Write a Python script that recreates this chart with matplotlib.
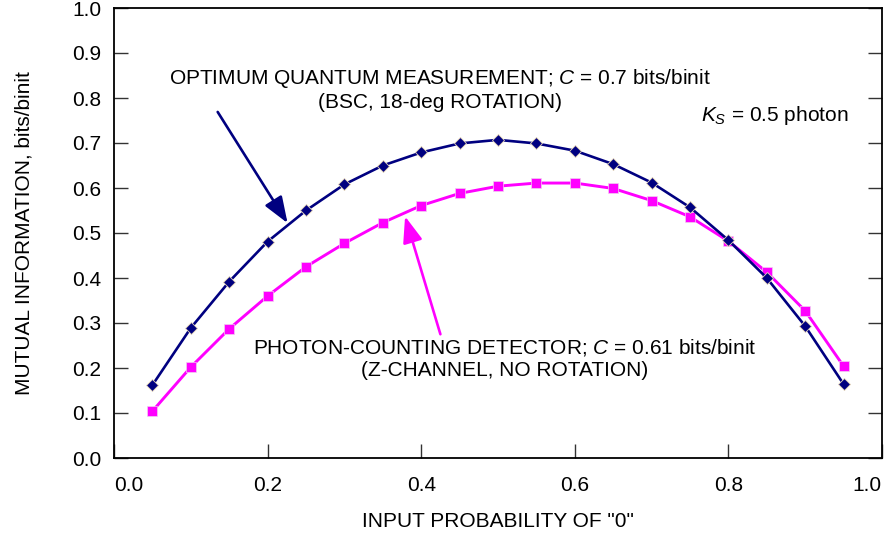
import matplotlib
matplotlib.use("Agg")
import matplotlib.pyplot as plt

plt.rcParams['font.family'] = ['Liberation Sans', 'DejaVu Sans']
plt.rcParams['mathtext.fontset'] = 'custom'
plt.rcParams['mathtext.it'] = 'Liberation Sans:italic'
plt.rcParams['mathtext.rm'] = 'Liberation Sans'

p0 = [0.05, 0.10, 0.15, 0.20, 0.25, 0.30, 0.35, 0.40, 0.45, 0.50,
      0.55, 0.60, 0.65, 0.70, 0.75, 0.80, 0.85, 0.90, 0.95]
optimum = [0.162, 0.289, 0.392, 0.481, 0.550, 0.608, 0.650, 0.679, 0.699, 0.707,
           0.699, 0.683, 0.653, 0.612, 0.557, 0.484, 0.400, 0.293, 0.164]
photon = [0.104, 0.202, 0.287, 0.360, 0.425, 0.477, 0.523, 0.561, 0.588, 0.604,
          0.611, 0.611, 0.599, 0.572, 0.536, 0.482, 0.413, 0.327, 0.204]

xticks = [0.0, 0.2, 0.4, 0.6, 0.8, 1.0]
yticks = [0.0, 0.1, 0.2, 0.3, 0.4, 0.5, 0.6, 0.7, 0.8, 0.9, 1.0]

navy = '#000080'
pink = '#FF00FF'
FS = 15

fig = plt.figure(figsize=(8.89, 5.35), dpi=100)
ax = fig.add_axes([114/889, 1 - 458/535, 768/889, 450/535])

ax.plot(p0, photon, color=pink, lw=2.1, marker='s', ms=7.5,
        mfc=pink, mec='#f0d0f0', mew=0.5, zorder=3)
ax.plot(p0, optimum, color=navy, lw=1.9, marker='D', ms=6.5,
        mfc=navy, mec='#e8d8b8', mew=0.6, zorder=4)

ax.set_xlim(0, 1)
ax.set_ylim(0, 1)
ax.set_xticks(xticks)
ax.set_yticks(yticks)
ax.set_xticklabels([f'{v:.1f}' for v in xticks])
ax.set_yticklabels([f'{v:.1f}' for v in yticks])
ax.tick_params(axis='both', direction='in', length=10, width=1.0,
               labelsize=FS, color='#333333')
ax.tick_params(axis='x', pad=13)
ax.tick_params(axis='y', pad=9, right=True)
for s in ax.spines.values():
    s.set_linewidth(1.3)
lbls = ax.get_xticklabels()
lbls[0].set_horizontalalignment('left')
lbls[-1].set_horizontalalignment('right')

ax.set_xlabel('INPUT PROBABILITY OF "0"', fontsize=FS, labelpad=12)
ax.set_ylabel('MUTUAL INFORMATION, bits/binit', fontsize=FS, labelpad=28)

ax.text(0.424, 0.819, 'OPTIMUM QUANTUM MEASUREMENT; $\\mathit{C}$ = 0.7 bits/binit\n(BSC, 18-deg ROTATION)',
        ha='center', va='center', fontsize=FS, linespacing=1.2, multialignment='center')
ax.text(0.509, 0.222, 'PHOTON-COUNTING DETECTOR; $\\mathit{C}$ = 0.61 bits/binit\n(Z-CHANNEL, NO ROTATION)',
        ha='center', va='center', fontsize=FS, linespacing=1.2, multialignment='center')
ax.text(0.956, 0.762, '$\\mathit{K_S}$ = 0.5 photon', ha='right', va='center', fontsize=FS)

ax.annotate('', xy=(0.226, 0.522), xytext=(0.135, 0.769),
            arrowprops=dict(arrowstyle='-|>,head_length=1.6,head_width=0.6',
                            color=navy, lw=1.9, shrinkA=0, shrinkB=0))
ax.annotate('', xy=(0.379, 0.537), xytext=(0.425, 0.275),
            arrowprops=dict(arrowstyle='-|>,head_length=1.6,head_width=0.6',
                            color=pink, lw=1.9, shrinkA=0, shrinkB=0))

fig.savefig('out.png', dpi=100)
